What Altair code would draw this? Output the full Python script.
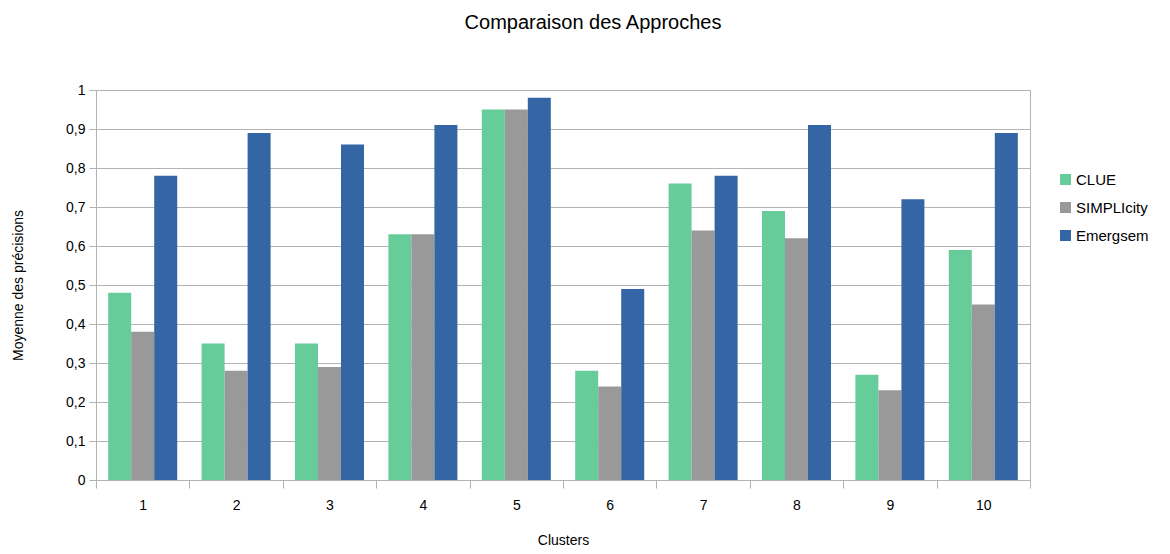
import altair as alt
import pandas as pd

clusters = ["1", "2", "3", "4", "5", "6", "7", "8", "9", "10"]
series = ["CLUE", "SIMPLIcity", "Emergsem"]
clue = [0.48, 0.35, 0.35, 0.63, 0.95, 0.28, 0.76, 0.69, 0.27, 0.59]
simplicity = [0.38, 0.28, 0.29, 0.63, 0.95, 0.24, 0.64, 0.62, 0.23, 0.45]
emergsem = [0.78, 0.89, 0.86, 0.91, 0.98, 0.49, 0.78, 0.91, 0.72, 0.89]
colors = ["#66cc99", "#999999", "#3465a4"]

rows = []
for name, vals in zip(series, [clue, simplicity, emergsem]):
    for c, v in zip(clusters, vals):
        rows.append({"Cluster": c, "Série": name, "Valeur": v})
df = pd.DataFrame(rows)

FONT = "Liberation Sans"
GRID = "#b3b3b3"

chart = alt.Chart(df).mark_bar().encode(
    x=alt.X("Cluster:N", sort=clusters,
            scale=alt.Scale(paddingInner=0, paddingOuter=0),
            axis=alt.Axis(title="Clusters", labelAngle=0, tickBand="extent",
                          tickSize=8, tickColor=GRID, domainColor=GRID,
                          labelFontSize=14, labelColor="#000000", labelPadding=10,
                          titleFontSize=14, titleFontWeight="normal", titleColor="#000000",
                          titlePadding=21, grid=False)),
    xOffset=alt.XOffset("Série:N", sort=series,
                        scale=alt.Scale(paddingInner=0, paddingOuter=0.53)),
    y=alt.Y("Valeur:Q",
            scale=alt.Scale(domain=[0, 1], nice=False),
            axis=alt.Axis(title="Moyenne des précisions", values=[i / 10 for i in range(11)],
                          format="~f", labelExpr="replace(datum.label, '.', ',')",
                          tickSize=7, tickColor=GRID, domainColor=GRID, gridColor=GRID,
                          labelFontSize=14, labelColor="#000000", labelPadding=4,
                          titleFontSize=14, titleFontWeight="normal", titleColor="#000000",
                          titlePadding=40)),
    color=alt.Color("Série:N", sort=series,
                    scale=alt.Scale(domain=series, range=colors),
                    legend=alt.Legend(title=None, orient="none", legendX=962, legendY=82,
                                      symbolType="square", symbolSize=121,
                                      symbolStrokeWidth=0, labelFontSize=15,
                                      labelColor="#000000", rowPadding=12, labelOffset=3)),
).properties(
    width=934,
    height=390,
    title=alt.TitleParams("Comparaison des Approches", fontSize=20, fontWeight="normal",
                          color="#000000", offset=50, dx=30, anchor="middle"),
    autosize=alt.AutoSizeParams(type="none"),
    padding={"left": 88, "top": 82, "right": 132, "bottom": 66},
).configure(font=FONT).configure_view(stroke=GRID)

chart.save("out.html", embed_options={"renderer": "svg", "actions": False})
